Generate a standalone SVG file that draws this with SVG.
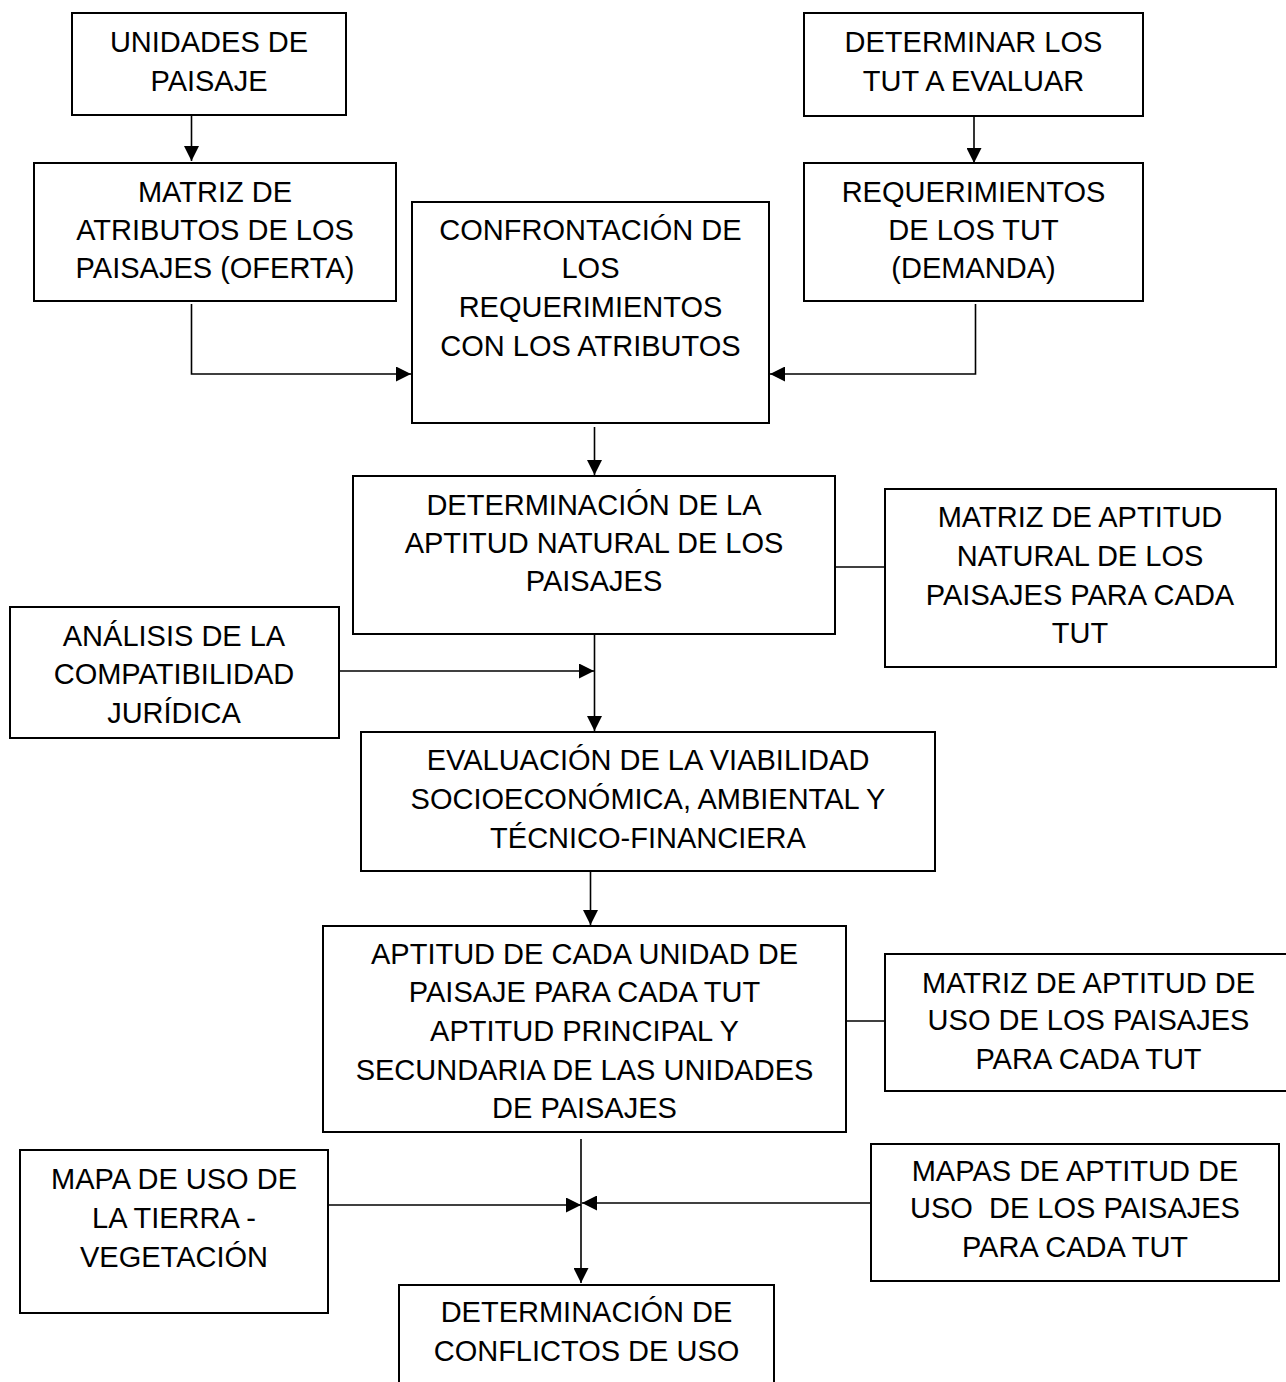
<svg xmlns="http://www.w3.org/2000/svg" width="1286" height="1382" viewBox="0 0 1286 1382">
<defs>
<style>
.box{fill:#fff;stroke:#000;stroke-width:2}
.t{font-family:"Liberation Sans",Arial,sans-serif;font-size:29px;fill:#000;text-anchor:middle}
.c{fill:none;stroke:#000;stroke-width:1.6}
</style>
<marker id="ah" markerUnits="userSpaceOnUse" markerWidth="15" markerHeight="15" refX="15" refY="7.5" orient="auto">
<path d="M0,0 L15,7.5 L0,15 z" fill="#000"/>
</marker>
</defs>
<rect width="1286" height="1382" fill="#fff"/>
<g id="connectors">
<path class="c" d="M191.5,115 V161" marker-end="url(#ah)"/>
<path class="c" d="M974,116 V163" marker-end="url(#ah)"/>
<path class="c" d="M191.5,304 V374 H411" marker-end="url(#ah)"/>
<path class="c" d="M975.5,304 V374 H770" marker-end="url(#ah)"/>
<path class="c" d="M594.5,427 V475" marker-end="url(#ah)"/>
<path class="c" d="M835,567 H885"/>
<path class="c" d="M594.5,634 V731" marker-end="url(#ah)"/>
<path class="c" d="M339,671 H594" marker-end="url(#ah)"/>
<path class="c" d="M590.5,871 V925" marker-end="url(#ah)"/>
<path class="c" d="M846,1021 H885"/>
<path class="c" d="M581,1139 V1283" marker-end="url(#ah)"/>
<path class="c" d="M328,1205 H581" marker-end="url(#ah)"/>
<path class="c" d="M871,1203 H582" marker-end="url(#ah)"/>
</g>
<g id="n-unidades">
<rect class="box" x="72" y="13" width="274" height="102"/>
<text class="t" x="209" y="52">UNIDADES DE</text>
<text class="t" x="209" y="91">PAISAJE</text>
</g>
<g id="n-determinar">
<rect class="box" x="804" y="13" width="339" height="103"/>
<text class="t" x="973.5" y="52">DETERMINAR LOS</text>
<text class="t" x="973.5" y="91">TUT A EVALUAR</text>
</g>
<g id="n-matriz-atributos">
<rect class="box" x="34" y="163" width="362" height="138"/>
<text class="t" x="215" y="202">MATRIZ DE</text>
<text class="t" x="215" y="240">ATRIBUTOS DE LOS</text>
<text class="t" x="215" y="278">PAISAJES (OFERTA)</text>
</g>
<g id="n-requerimientos">
<rect class="box" x="804" y="163" width="339" height="138"/>
<text class="t" x="973.5" y="202">REQUERIMIENTOS</text>
<text class="t" x="973.5" y="240">DE LOS TUT</text>
<text class="t" x="973.5" y="278">(DEMANDA)</text>
</g>
<g id="n-confrontacion">
<rect class="box" x="412" y="202" width="357" height="221"/>
<text class="t" x="590.5" y="240">CONFRONTACIÓN DE</text>
<text class="t" x="590.5" y="278">LOS</text>
<text class="t" x="590.5" y="317">REQUERIMIENTOS</text>
<text class="t" x="590.5" y="356">CON LOS ATRIBUTOS</text>
</g>
<g id="n-aptitud-natural">
<rect class="box" x="353" y="476" width="482" height="158"/>
<text class="t" x="594" y="515">DETERMINACIÓN DE LA</text>
<text class="t" x="594" y="553">APTITUD NATURAL DE LOS</text>
<text class="t" x="594" y="591">PAISAJES</text>
</g>
<g id="n-matriz-natural">
<rect class="box" x="885" y="489" width="391" height="178"/>
<text class="t" x="1080" y="527">MATRIZ DE APTITUD</text>
<text class="t" x="1080" y="566">NATURAL DE LOS</text>
<text class="t" x="1080" y="605">PAISAJES PARA CADA</text>
<text class="t" x="1080" y="643">TUT</text>
</g>
<g id="n-analisis">
<rect class="box" x="10" y="607" width="329" height="131"/>
<text class="t" x="174" y="646">ANÁLISIS DE LA</text>
<text class="t" x="174" y="684">COMPATIBILIDAD</text>
<text class="t" x="174" y="723">JURÍDICA</text>
</g>
<g id="n-evaluacion">
<rect class="box" x="361" y="732" width="574" height="139"/>
<text class="t" x="648" y="770">EVALUACIÓN DE LA VIABILIDAD</text>
<text class="t" x="648" y="809">SOCIOECONÓMICA, AMBIENTAL Y</text>
<text class="t" x="648" y="848">TÉCNICO-FINANCIERA</text>
</g>
<g id="n-aptitud-cada">
<rect class="box" x="323" y="926" width="523" height="206"/>
<text class="t" x="584.5" y="964">APTITUD DE CADA UNIDAD DE</text>
<text class="t" x="584.5" y="1002">PAISAJE PARA CADA TUT</text>
<text class="t" x="584.5" y="1041">APTITUD PRINCIPAL Y</text>
<text class="t" x="584.5" y="1080">SECUNDARIA DE LAS UNIDADES</text>
<text class="t" x="584.5" y="1118">DE PAISAJES</text>
</g>
<g id="n-matriz-uso">
<rect class="box" x="885" y="954" width="410" height="137"/>
<text class="t" x="1088.5" y="993">MATRIZ DE APTITUD DE</text>
<text class="t" x="1088.5" y="1030">USO DE LOS PAISAJES</text>
<text class="t" x="1088.5" y="1069">PARA CADA TUT</text>
</g>
<g id="n-mapa-uso">
<rect class="box" x="20" y="1150" width="308" height="163"/>
<text class="t" x="174" y="1189">MAPA DE USO DE</text>
<text class="t" x="174" y="1228">LA TIERRA -</text>
<text class="t" x="174" y="1267">VEGETACIÓN</text>
</g>
<g id="n-mapas-aptitud">
<rect class="box" x="871" y="1144" width="408" height="137"/>
<text class="t" x="1075" y="1181">MAPAS DE APTITUD DE</text>
<text class="t" x="1075" y="1218" xml:space="preserve">USO  DE LOS PAISAJES</text>
<text class="t" x="1075" y="1257">PARA CADA TUT</text>
</g>
<g id="n-conflictos">
<rect class="box" x="399" y="1285" width="375" height="110"/>
<text class="t" x="586.5" y="1322">DETERMINACIÓN DE</text>
<text class="t" x="586.5" y="1361">CONFLICTOS DE USO</text>
</g>
</svg>
